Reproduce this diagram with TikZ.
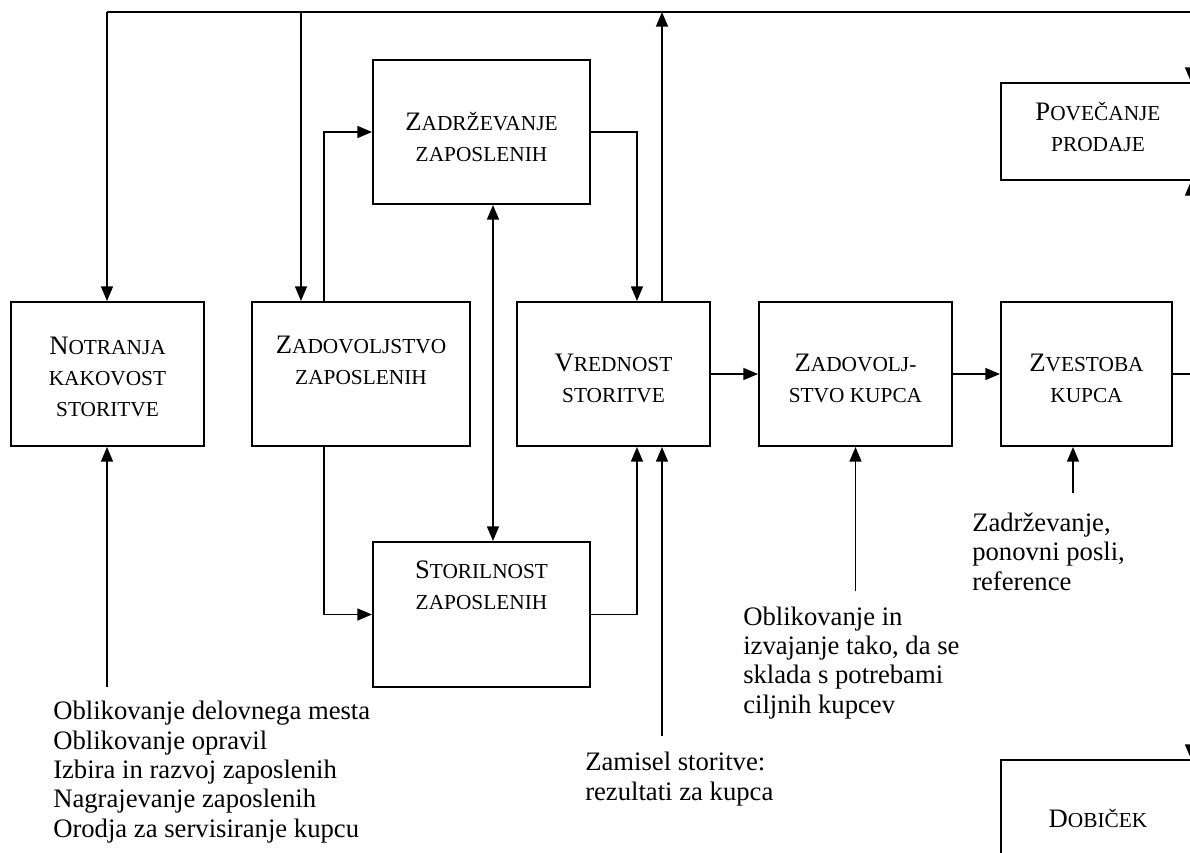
\documentclass[tikz,border=0pt]{standalone}
\usepackage{fontspec}
\setmainfont{Liberation Serif}
\usetikzlibrary{arrows.meta}
% small capitals built from two sizes of the same face
\newcommand\smcp[1]{{\fontsize{16pt}{23.25pt}\selectfont #1}}
\begin{document}
\begin{tikzpicture}[x=0.75pt,y=-0.75pt,
  box/.style={draw, line width=1.5pt, rectangle, inner sep=0pt},
  line/.style={line width=1.1pt},
  conn/.style={line width=1.1pt, -{Triangle[length=11pt,width=9pt]}},
  both/.style={line width=1.1pt, {Triangle[length=11pt,width=9pt]}-{Triangle[length=11pt,width=9pt]}},
  boxtxt/.style={font=\fontsize{20pt}{23.25pt}\selectfont, align=center, anchor=base, inner sep=0pt},
  note/.style={font=\fontsize{20pt}{22pt}\selectfont, align=left, anchor=base west, inner sep=0pt}]
\useasboundingbox (0,0) rectangle (1190,853);
\clip (0,0) rectangle (1190,853);

% boxes
\node[box, minimum width=144.75pt, minimum height=108pt]    (notr)  at (107.5,374) {};
\node[box, minimum width=163.5pt,  minimum height=108pt]    (zzap)  at (361,374)   {};
\node[box, minimum width=162.75pt, minimum height=108pt]    (zadr)  at (481.5,132) {};
\node[box, minimum width=162.75pt, minimum height=108.75pt] (stor)  at (481.5,614.5) {};
\node[box, minimum width=144.75pt, minimum height=108pt]    (vred)  at (613.5,374) {};
\node[box, minimum width=144.75pt, minimum height=108pt]    (zkup)  at (855.5,374) {};
\node[box, minimum width=128.25pt, minimum height=108pt]    (zvest) at (1086.5,374) {};
\node[box, minimum width=145.5pt,  minimum height=72.75pt]  (pove)  at (1098,131.5) {};
\node[box, minimum width=145.5pt,  minimum height=105pt]    (dobi)  at (1098,830) {};

% box captions (placed by the baseline of their last line)
\node[boxtxt] (notr-t)  at (107.5,416) {N\smcp{OTRANJA}\\\smcp{KAKOVOST}\\\smcp{STORITVE}};
\node[boxtxt] (zzap-t)  at (361,384)   {Z\smcp{ADOVOLJSTVO}\\\smcp{ZAPOSLENIH}};
\node[boxtxt] (zadr-t)  at (481.5,161) {Z\smcp{ADRŽEVANJE}\\\smcp{ZAPOSLENIH}};
\node[boxtxt] (stor-t)  at (481.5,609) {S\smcp{TORILNOST}\\\smcp{ZAPOSLENIH}};
\node[boxtxt] (vred-t)  at (613.5,402) {V\smcp{REDNOST}\\\smcp{STORITVE}};
\node[boxtxt] (zkup-t)  at (855.5,402) {Z\smcp{ADOVOLJ-}\\\smcp{STVO KUPCA}};
\node[boxtxt] (zvest-t) at (1086.5,402) {Z\smcp{VESTOBA}\\\smcp{KUPCA}};
\node[boxtxt] (pove-t)  at (1098,151)  {P\smcp{OVEČANJE}\\\smcp{PRODAJE}};
\node[boxtxt] (dobi-t)  at (1098,827)  {D\smcp{OBIČEK}};

% notes below the boxes
\node[note] (n1) at (53,837) {Oblikovanje delovnega mesta\\Oblikovanje opravil\\Izbira in razvoj zaposlenih\\Nagrajevanje zaposlenih\\Orodja za servisiranje kupcu};
\node[note] (n2) at (585,800) {Zamisel storitve:\\rezultati za kupca};
\node[note] (n3) at (743,713) {Oblikovanje in\\izvajanje tako, da se\\sklada s potrebami\\ciljnih kupcev};
\node[note] (n4) at (972,590) {Zadrževanje,\\ponovni posli,\\reference};

% feedback line along the top
\coordinate (t1) at (107,12);
\coordinate (t2) at (301,12);
\coordinate (t3) at (662,12);
\coordinate (t4) at (1191,12);
\draw[line] (t1) -- (t4);
\draw[conn] (t1) -- (t1 |- notr.north);
\draw[conn] (t2) -- (t2 |- zzap.north);
\draw[conn] (t3 |- vred.north) -- (t3);
\draw[conn] (t4) -- (t4 |- pove.north);

% links between the boxes
\draw[conn] ([xshift=-27.75pt]zzap.north) |- (zadr.west);
\draw[conn] ([xshift=-27.75pt]zzap.south) |- (stor.west);
\draw[both] ([xshift=8.6pt]zadr.south) -- ([xshift=8.6pt]stor.north);
\draw[conn] (zadr.east) -| ([xshift=17.6pt]vred.north);
\draw[conn] (stor.east) -| ([xshift=17.6pt]vred.south);
\draw[conn] (vred.east) -- (zkup.west);
\draw[conn] (zkup.east) -- (zvest.west);
\coordinate (r) at (1191,374);
\draw[line] (zvest.east) -- (r);
\draw[conn] (r) -- (r |- pove.south);
\draw[conn] (r) -- (r |- dobi.north);

% inputs from below
\coordinate (b1) at (107,687);
\coordinate (b2) at (662,736);
\coordinate (b3) at (855.5,591);
\coordinate (b4) at (1073,493);
\draw[conn] (b1) -- (b1 |- notr.south);
\draw[conn] (b2) -- (b2 |- vred.south);
\draw[conn] (b3) -- (b3 |- zkup.south);
\draw[conn] (b4) -- (b4 |- zvest.south);
\end{tikzpicture}
\end{document}
